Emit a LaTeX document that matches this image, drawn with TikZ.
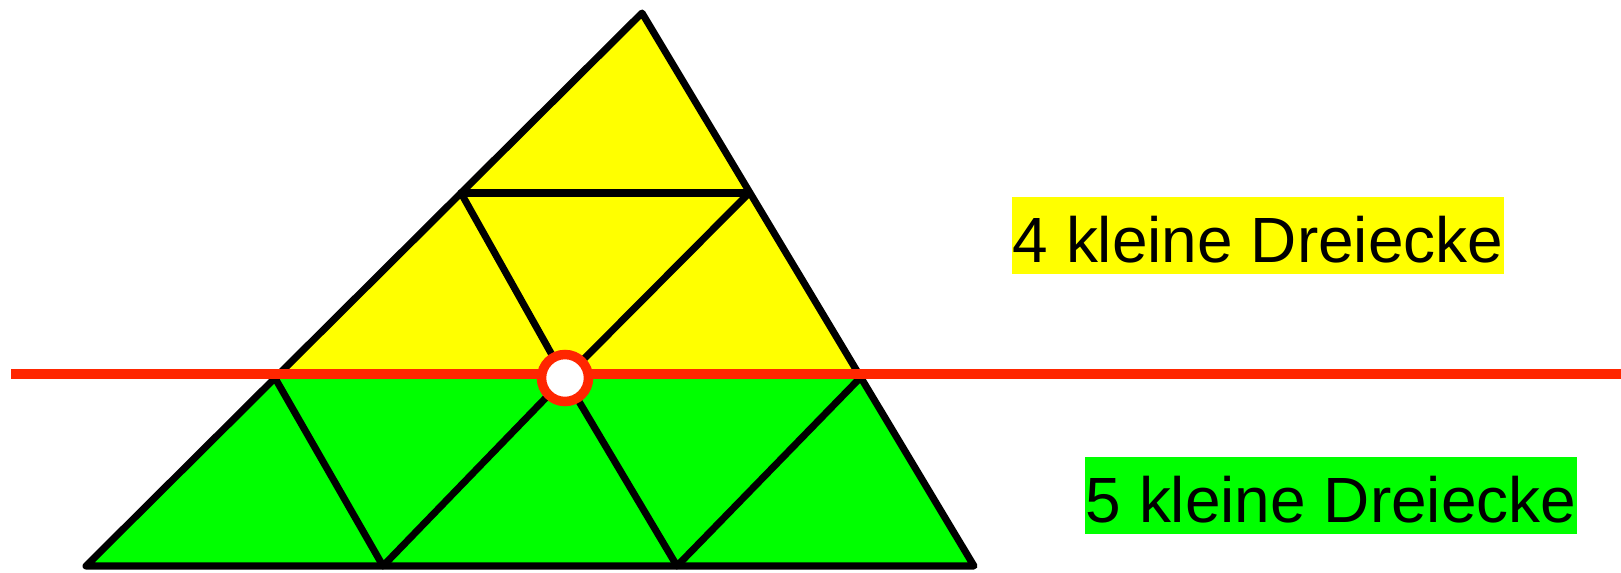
\documentclass[tikz,border=0pt]{standalone}
\usepackage{fontspec}
\setmainfont{Liberation Sans}
\usepackage{tikz}
\definecolor{gelb}{RGB}{255,255,0}
\definecolor{gruen}{RGB}{0,255,0}
\definecolor{rot}{RGB}{255,38,0}

\begin{document}
\begin{tikzpicture}[
  x=0.02cm, y=-0.02cm,
  kante/.style={draw=black, line width=4pt, line join=round, line cap=round},
  teiler/.style={draw=rot, line width=0.2cm},
  punkt/.style={circle, draw=rot, fill=white, line width=0.19cm, minimum size=0.94cm, inner sep=0pt},
  schild/.style={anchor=base, inner xsep=0pt, inner ysep=0pt, minimum width=9.84cm, text height=1.3cm, text depth=0.24cm, font=\fontsize{36.4pt}{40pt}\selectfont}
]
\useasboundingbox (0,0) rectangle (1621,572);
\coordinate (spitze) at (642,13);
\coordinate (links) at (86,566);
\coordinate (rechts) at (974,566);
\coordinate (l1) at (461,193);
\coordinate (r1) at (749,193);
\coordinate (l2) at (275,378);
\coordinate (mitte) at (565,378);
\coordinate (r2) at (860,378);
\coordinate (u1) at (383,566);
\coordinate (u2) at (677,566);
\coordinate (rand1) at (11,374);
\coordinate (rand2) at (1621,374);
\fill[gelb] (spitze) -- (l2) -- (r2) -- cycle;
\fill[gruen] (l2) -- (links) -- (rechts) -- (r2) -- cycle;
\draw[kante] (spitze) -- (links) -- (rechts) -- cycle;
\draw[kante] (l1) -- (r1);
\draw[kante] (l1) -- (mitte) -- (r1);
\draw[kante] (l2) -- (u1) -- (mitte) -- (u2) -- (r2);
\draw[teiler] (rand1) -- (rand2);
\node[punkt] (kreis) at (mitte) {};
\node[schild, fill=gelb] (oben) at (1258,262) {4 kleine Dreiecke};
\node[schild, fill=gruen] (unten) at (1331,522) {5 kleine Dreiecke};
\end{tikzpicture}
\end{document}
